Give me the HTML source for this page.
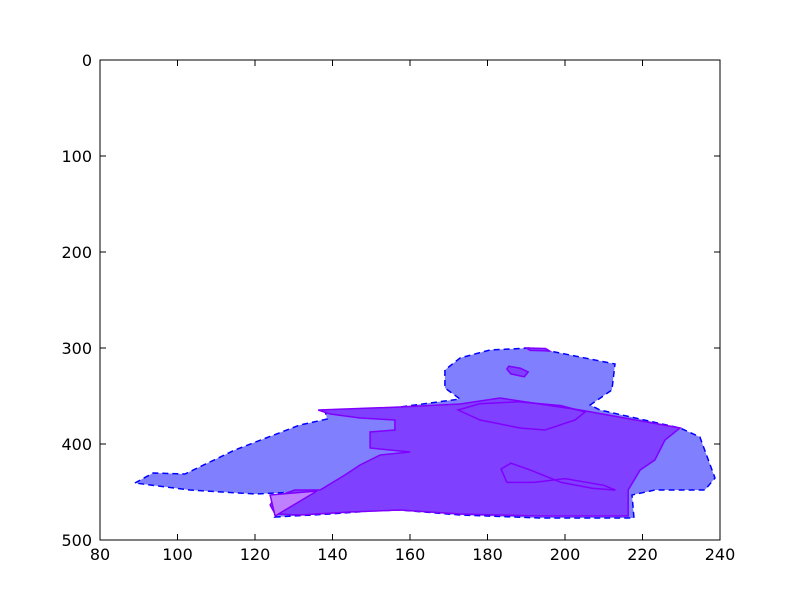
<!DOCTYPE html>
<html><head><meta charset="utf-8"><style>
body{margin:0;background:#fff}
svg{display:block;font-family:"DejaVu Sans","Liberation Sans",sans-serif}
</style></head><body>
<svg id="chart" width="800" height="600" viewBox="0 0 800 600">
<rect width="800" height="600" fill="#fff"/>
<g id="plot"></g>
<g id="axes"></g>
</svg>
<script>
const xTicks=[80,100,120,140,160,180,200,220,240];
const yTicks=[0,100,200,300,400,500];
const blueX=[89.0,93.7,101.9,114.8,131.6,138.6,138.1,157.4,172.9,169.0,169.0,172.9,180.6,191.0,197.4,212.9,212.1,206.5,209.0,229.7,234.8,238.7,236.1,223.2,217.3,217.8,193.5,172.9,157.4,149.7,139.4,125.2,129.0,136.0,120.0,103.2];
const blueY=[440.6,430.2,431.3,406.3,380.2,374,365.6,361.5,353.1,341.7,322.9,310.4,302.1,300,304.2,316.7,343.8,359.4,364.6,383.3,392.7,435.4,447.9,447.9,453.1,477.1,477.1,474,468.8,469.8,472.9,476,458.3,449,452.1,447.9];
const purpleX=[136.3,157.4,172.9,183.2,193.5,203.9,229.7,225.8,223.2,219.4,216.3,216.3,193.5,172.9,157.4,144.5,131.6,125.2,123.9,125.2,130.3,136.8,143.2,147.1,152.3,160.0,149.7,149.7,156.1,156.1,147.1,139.4];
const purpleY=[364.6,361.5,358.3,352.1,358.3,364.6,383.3,395.8,416.7,427.1,447.9,475,475,472.9,468.8,470.8,474,472.9,463.5,455.2,447.9,447.9,432.3,421.9,411.5,408.3,404.2,387.5,385.4,375,372.9,368.8];
const lightX=[123.9,136.0,125.2];
const lightY=[453.1,449,475];
const blob1X=[185.5,188.5,190.5,189.5,186,185];
const blob1Y=[319,321,325,330,327,322];
const blob2X=[190,195,196,191];
const blob2Y=[300,300.5,303,302.5];
const hole1X=[172.4,178.1,188.4,194.8,202.6,205.2,199,188,178,172.4];
const hole1Y=[364.6,375,383.3,385.4,375,366.7,360,356,358,364.6];
const hole2X=[183.5,186,191,199,207,213,210,200,192,185,183.5];
const hole2Y=[426,420,427,440,446,448,443,436,440,440,426];

const X0=100,X1=720,Y0=60,Y1=540;
const sx=v=>X0+(v-80)/160*(X1-X0);
const sy=v=>Y0+(v-0)/500*(Y1-Y0);
const NS="http://www.w3.org/2000/svg";
const plot=document.getElementById('plot'),axes=document.getElementById('axes');
function pts(xs,ys){return xs.map((x,i)=>sx(x).toFixed(1)+','+sy(ys[i]).toFixed(1)).join(' ');}
function poly(xs,ys,fill,stroke,dash,name,closed){
 const p=document.createElementNS(NS,closed?'polygon':'polyline');
 p.setAttribute('points',pts(xs,ys));
 p.setAttribute('fill',fill);p.setAttribute('stroke',stroke);p.setAttribute('stroke-width','1.5');
 if(dash)p.setAttribute('stroke-dasharray',dash);
 
 
 plot.appendChild(p);
}
poly(blueX,blueY,'#8080ff','#0000ff','6,4','blue-region',true);
poly(purpleX,purpleY,'#7f40ff','#8000ff',null,'purple-region',true);
poly(lightX,lightY,'#bf80ff','#8000ff',null,'light-purple-region',true);
poly(blob1X,blob1Y,'#7f40ff','#8000ff',null,'purple-blob',true);
poly(blob2X,blob2Y,'#7f40ff','#8000ff',null,'purple-blob-top',true);
poly(hole1X,hole1Y,'none','#8000ff',null,'inner-outline',true);
poly(hole2X,hole2Y,'none','#8000ff',null,'inner-outline-lower',true);

const fr=document.createElementNS(NS,'rect');
fr.setAttribute('x',X0);fr.setAttribute('y',Y0);fr.setAttribute('width',X1-X0);fr.setAttribute('height',Y1-Y0);
fr.setAttribute('fill','none');fr.setAttribute('stroke','#000');fr.setAttribute('stroke-width','1');


axes.appendChild(fr);
function line(x1,y1,x2,y2,name){const l=document.createElementNS(NS,'line');l.setAttribute('x1',x1);l.setAttribute('y1',y1);l.setAttribute('x2',x2);l.setAttribute('y2',y2);l.setAttribute('stroke','#000');


axes.appendChild(l);}
function text(x,y,s,anchor,name){const t=document.createElementNS(NS,'text');t.setAttribute('x',x);t.setAttribute('y',y);t.setAttribute('text-anchor',anchor);t.setAttribute('font-size','16');t.textContent=s;


axes.appendChild(t);}
xTicks.forEach(v=>{const x=sx(v);line(x,Y1,x,Y1-6,'x-tick');line(x,Y0,x,Y0+6,'x-tick-top');text(x,Y1+20,String(v),'middle','x-tick-label');});
yTicks.forEach(v=>{const y=sy(v);line(X0,y,X0+6,y,'y-tick');line(X1,y,X1-6,y,'y-tick-right');text(X0-8,y+6,String(v),'end','y-tick-label');});
</script>
</body></html>
